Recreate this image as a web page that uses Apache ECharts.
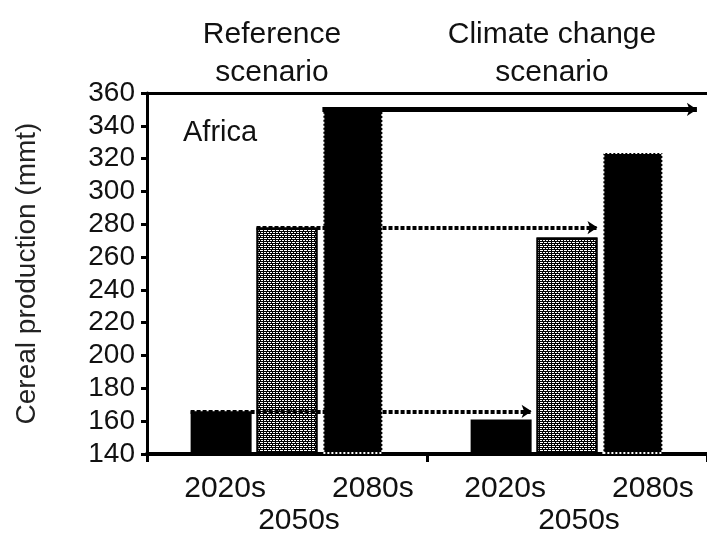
<!DOCTYPE html>
<html>
<head>
<meta charset="utf-8">
<script src="https://cdn.jsdelivr.net/npm/echarts@6/dist/echarts.min.js"></script>
<style>html,body{margin:0;padding:0;background:#fff}#c{width:707px;height:534px}</style>
</head>
<body>
<div id="c"></div>
<script>
// ---- data ----
var scenarios = ['Reference\nscenario', 'Climate change\nscenario'];
var periods = ['2020s', '2050s', '2080s'];
var values2020s = [166, 161];
var values2050s = [278, 272];
var values2080s = [350, 324];
var yMin = 140, yMax = 360, yStep = 20;
var regionLabel = 'Africa';
var yName = 'Cereal production (mmt)';

// ---- layout helpers (category units: 1 = one category width) ----
var barW = 61, catW = 280, gapPx = 4.9;
var pitch = (barW + gapPx) / catW, half = barW / 2 / catW;

var FONT = 'Liberation Sans, Arial, sans-serif';
var chart = echarts.init(document.getElementById('c'));

function barLabel(i, dist, dx) {
  return { show: true, position: 'bottom', distance: dist, offset: [dx, 0],
    formatter: periods[i], fontSize: 30, color: '#111', fontFamily: FONT };
}

chart.setOption({
  animation: false,
  backgroundColor: '#fff',
  textStyle: { fontFamily: FONT },
  title: { text: regionLabel, left: 178, top: 113,
    textStyle: { fontSize: 29, fontWeight: 'normal', color: '#111', fontFamily: FONT } },
  grid: { left: 147, right: 0, top: 93, bottom: 80, containLabel: false },
  xAxis: [
    { type: 'category', data: scenarios, position: 'bottom',
      axisLine: { onZero: false, lineStyle: { color: '#000', width: 4 } },
      axisTick: { show: true, length: 8, lineStyle: { color: '#000', width: 3 } },
      axisLabel: { show: false }, splitLine: { show: false } },
    { type: 'category', data: scenarios, position: 'top',
      axisLine: { onZero: false, lineStyle: { color: '#000', width: 3 } },
      axisTick: { show: false },
      axisLabel: { show: true, fontSize: 30, lineHeight: 38, color: '#111', margin: 1,
        padding: [0, 30, 0, 0], fontFamily: FONT } },
    { type: 'value', min: -0.5, max: 1.5, show: false, axisLine: { onZero: false } }
  ],
  yAxis: {
    type: 'value', min: yMin, max: yMax, interval: yStep, startValue: yMin,
    name: yName, nameLocation: 'middle', nameRotate: 90, nameGap: 106,
    nameTextStyle: { fontSize: 28, color: '#222', fontFamily: FONT },
    axisLine: { show: true, onZero: false, lineStyle: { color: '#000', width: 3 } },
    axisTick: { show: true, length: 6, lineStyle: { color: '#000', width: 3 } },
    axisLabel: { fontSize: 28, color: '#111', margin: 12, fontFamily: FONT },
    splitLine: { show: false }
  },
  series: [
    { name: periods[0], type: 'bar', xAxisIndex: 0, data: values2020s,
      barWidth: barW, barGap: '8%', barCategoryGap: '31%',
      itemStyle: { color: '#000' }, label: barLabel(0, 20, 4) },
    { name: periods[1], type: 'bar', xAxisIndex: 0, data: values2050s,
      barWidth: barW, barGap: '8%',
      itemStyle: { color: '#000', borderColor: '#000', borderWidth: 2,
        decal: { symbol: 'rect', symbolSize: 1, color: '#fff',
          dashArrayX: [[3, 1], [2, 1]], dashArrayY: [1, 1], rotation: 0 } },
      label: barLabel(1, 52, 12) },
    { name: periods[2], type: 'bar', xAxisIndex: 0, data: values2080s,
      barWidth: barW, barGap: '8%',
      itemStyle: { color: '#000', borderColor: '#fff', borderWidth: 2, borderType: 'dotted' },
      label: barLabel(2, 20, 20) },
    { type: 'line', xAxisIndex: 2, data: [], z: 5,
      markLine: {
        silent: true, symbol: ['none', 'arrow'], symbolSize: 10, label: { show: false },
        data: [
          [{ coord: [-pitch - half, values2020s[0]], lineStyle: { type: [4, 2], width: 4, color: '#000' } },
           { coord: [1 - pitch + half, values2020s[0]] }],
          [{ coord: [-half, values2050s[0]], lineStyle: { type: [4, 2], width: 4, color: '#000' } },
           { coord: [1 + half, values2050s[0]] }],
          [{ coord: [pitch - half, values2080s[0]], lineStyle: { type: 'solid', width: 5, color: '#000' } },
           { coord: [1.464, values2080s[0]] }]
        ]
      } }
  ]
});
</script>
</body>
</html>
